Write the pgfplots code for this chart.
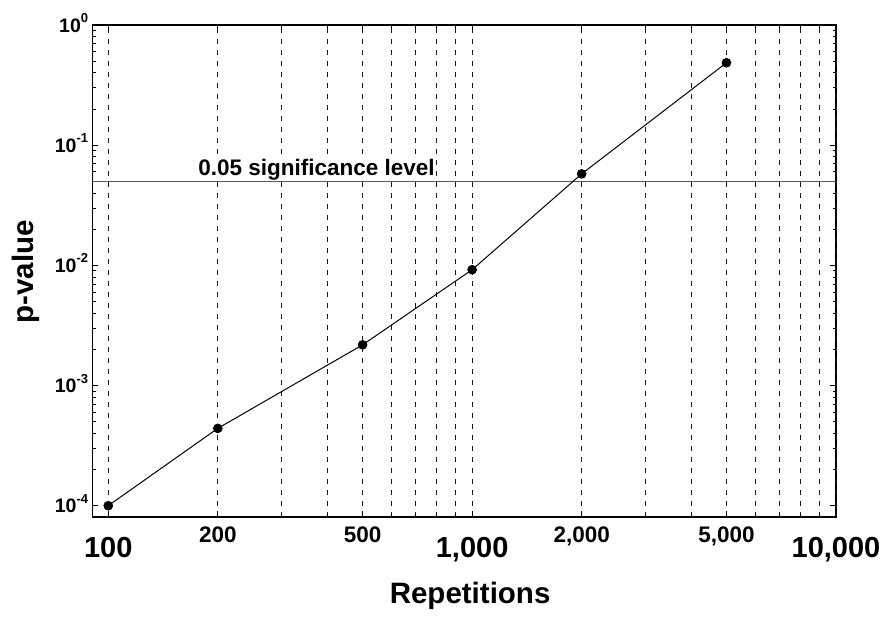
\documentclass[border=0pt]{standalone}
\usepackage{fontspec}
\setmainfont{Liberation Sans}
\usepackage{pgfplots}
\pgfplotsset{compat=1.18}
\newcommand{\ylab}[1]{10\raisebox{9.5pt}{\fontsize{13}{13}\selectfont #1}}
\begin{document}
\begin{tikzpicture}
\begin{axis}[
  scale only axis, width=743.7pt, height=492pt,
  xmode=log, ymode=log,
  xmin=90.4, xmax=10000, ymin=8.05e-5, ymax=1,
  axis line style={line width=1.5pt},
  xtick={200,500,2000,5000},
  xticklabels={200,500,{2,000},{5,000}},
  extra x ticks={100,1000,10000},
  extra x tick labels={100,{1,000},{10,000}},
  extra x tick style={xticklabel style={yshift=-10pt,
                    font=\fontsize{29}{29}\selectfont\bfseries}},
  minor xtick={300,400,600,700,800,900,3000,4000,6000,7000,8000,9000},
  xmajorgrids, xminorgrids,
  major grid style={black!90, line width=0.9pt, dash pattern=on 5.5pt off 5.5pt},
  minor grid style={black!90, line width=0.9pt, dash pattern=on 5.5pt off 5.5pt},
  ytick={1e-4,1e-3,1e-2,1e-1,1},
  yticklabels={\ylab{-4},\ylab{-3},\ylab{-2},\ylab{-1},\ylab{0}},
  minor ytick={2e-4,3e-4,4e-4,5e-4,6e-4,7e-4,8e-4,9e-4,
               2e-3,3e-3,4e-3,5e-3,6e-3,7e-3,8e-3,9e-3,
               2e-2,3e-2,4e-2,5e-2,6e-2,7e-2,8e-2,9e-2,
               0.2,0.3,0.4,0.5,0.6,0.7,0.8,0.9},
  tick style={black, line width=0.9pt},
  major tick length=6pt, minor tick length=3.5pt,
  xticklabel style={anchor=north, inner sep=0pt, yshift=-10pt,
                    font=\fontsize{22.5}{22.5}\selectfont\bfseries},
  yticklabel style={anchor=base east, inner sep=0pt, xshift=-4pt, yshift=-7pt,
                    font=\fontsize{19.5}{19.5}\selectfont\bfseries},
  xlabel={Repetitions},
  ylabel={p-value},
  xlabel style={at={(rel axis cs:0.508,-0.1748)}, anchor=base, inner sep=0pt,
                font=\fontsize{29.5}{29.5}\selectfont\bfseries},
  ylabel style={at={(rel axis cs:-0.0797,0.498)}, anchor=base, inner sep=0pt,
                rotate=0, font=\fontsize{29.5}{29.5}\selectfont\bfseries},
]
\node[anchor=base west, inner sep=0pt, fill=white,
      font=\fontsize{22.5}{22.5}\selectfont\bfseries]
  at (axis cs:176.6,0.0562) {0.05 significance level};
\addplot[black!65, line width=1.3pt] coordinates {(90.4,0.05) (10000,0.05)};
\addplot[black, line width=1pt, mark=*, mark size=4.3pt,
         mark options={fill=black}]
  coordinates {(100,1e-4) (200,4.4e-4) (500,2.18e-3) (1000,9.2e-3)
               (2000,0.0577) (5000,0.485)};
\coordinate (bl) at (rel axis cs:0,0);
\coordinate (tr) at (rel axis cs:1,1);
\end{axis}
\pgfresetboundingbox
\path[use as bounding box] ([xshift=-92.3pt,yshift=-106pt]bl)
  rectangle ([xshift=46pt,yshift=25pt]tr);
\end{tikzpicture}
\end{document}
